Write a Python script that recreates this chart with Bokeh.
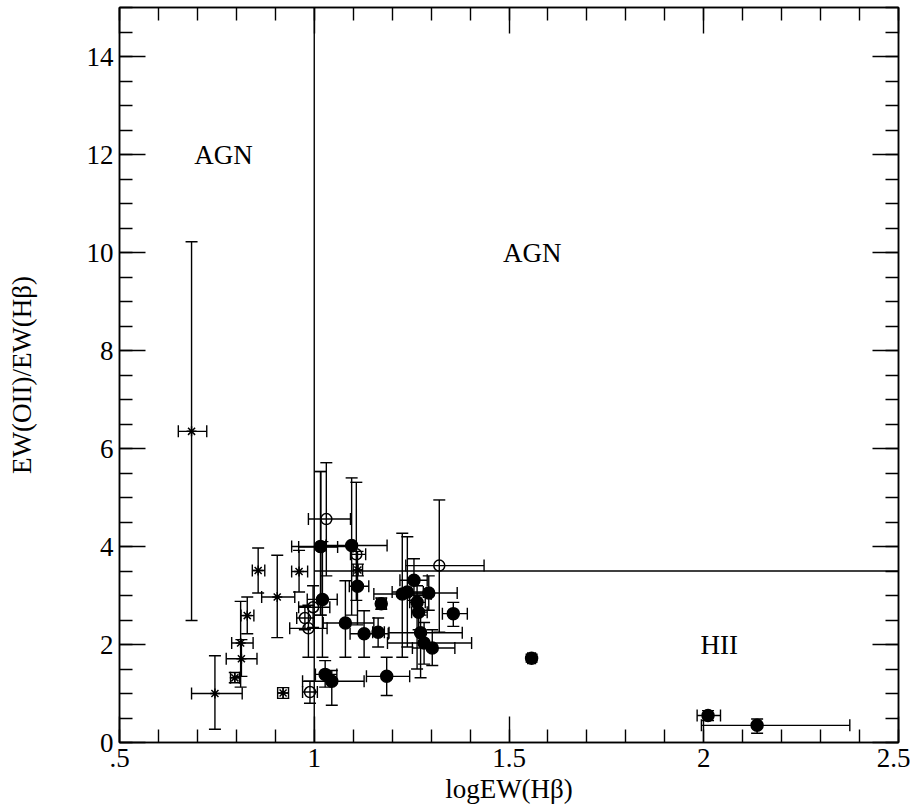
from bokeh.plotting import figure
from bokeh.models import (ColumnDataSource, Whisker, TeeHead, LinearAxis,
                          SingleIntervalTicker, CustomLabelingPolicy)
from bokeh.core.properties import value
from bokeh.embed import file_html
from bokeh.resources import INLINE

FONT = "Liberation Serif"

# asterisks
star_x = [0.685, 0.745, 0.796, 0.813, 0.811, 0.828, 0.856, 0.905, 0.961, 0.920, 1.112]
star_y = [6.35, 1.00, 1.32, 1.71, 2.03, 2.59, 3.51, 2.97, 3.49, 1.01, 3.52]
star_xlo = [0.651, 0.685, 0.785, 0.774, 0.788, 0.812, 0.841, 0.865, 0.942, 0.906, 1.100]
star_xhi = [0.724, 0.815, 0.808, 0.853, 0.843, 0.845, 0.873, 0.950, 0.983, 0.934, 1.124]
star_ylo = [2.49, 0.27, 1.22, 1.35, 1.13, 2.22, 3.05, 2.14, 3.07, 0.90, 3.40]
star_yhi = [10.22, 1.77, 1.43, 2.10, 2.88, 2.97, 3.97, 3.82, 3.92, 1.12, 3.64]

# open circles
open_x = [0.989, 0.985, 0.976, 0.997, 1.031, 1.017, 1.108, 1.321]
open_y = [1.03, 2.33, 2.54, 2.76, 4.56, 3.99, 3.84, 3.61]
open_xlo = [0.970, 0.937, 0.955, 0.960, 0.985, 0.960, 1.093, 1.235]
open_xhi = [1.008, 1.033, 1.000, 1.040, 1.093, 1.060, 1.132, 1.436]
open_ylo = [0.80, 1.74, 2.30, 2.35, 3.40, 2.60, 2.90, 2.25]
open_yhi = [1.25, 2.80, 2.78, 3.20, 5.71, 5.53, 5.31, 4.95]

# filled circles
fill_x = [1.021, 1.016, 1.096, 1.111, 1.080, 1.128, 1.164, 1.172, 1.028, 1.045, 1.186, 1.256,
          1.226, 1.239, 1.294, 1.264, 1.268, 1.273, 1.282, 1.303, 1.357, 1.558, 2.011, 2.137]
fill_y = [2.92, 4.00, 4.02, 3.19, 2.44, 2.22, 2.25, 2.83, 1.39, 1.25, 1.35, 3.31,
          3.03, 3.07, 3.05, 2.86, 2.66, 2.24, 2.03, 1.93, 2.63, 1.72, 0.55, 0.35]
fill_xlo = [0.982, 0.942, 1.030, 1.090, 1.023, 1.092, 1.150, 1.160, 1.003, 0.970, 1.134, 1.220,
            1.153, 1.200, 1.230, 1.245, 1.250, 1.192, 1.188, 1.252, 1.329, 1.548, 1.983, 1.994]
fill_xhi = [1.059, 1.100, 1.187, 1.140, 1.153, 1.190, 1.180, 1.185, 1.058, 1.128, 1.245, 1.290,
            1.300, 1.280, 1.367, 1.285, 1.290, 1.380, 1.404, 1.361, 1.393, 1.568, 2.043, 2.375]
fill_ylo = [1.74, 2.60, 2.60, 2.40, 1.74, 1.74, 1.95, 2.72, 1.13, 0.76, 0.96, 2.90,
            1.74, 1.95, 2.70, 1.50, 2.30, 1.32, 1.60, 1.57, 2.37, 1.64, 0.45, 0.19]
fill_yhi = [4.10, 5.53, 5.40, 3.90, 3.30, 2.69, 2.54, 2.95, 1.67, 1.47, 1.74, 3.75,
            4.27, 4.20, 3.40, 3.20, 3.00, 2.60, 2.45, 2.30, 2.86, 1.80, 0.65, 0.48]

# dividing lines and region labels
agn_logew = 1.0
hii_ratio = 3.5
region_labels = ["AGN", "AGN", "HII"]
region_x = [0.767, 1.56, 2.04]
region_y = [12.0, 10.0, 1.98]

x_tick_labels = {0.5: ".5", 1: "1", 1.5: "1.5", 2: "2", 2.5: "2.5"}

p = figure(width=910, height=808, x_range=(0.5, 2.5), y_range=(0, 15),
           output_backend="svg", toolbar_location=None,
           min_border_left=119, min_border_right=12, min_border_top=7,
           min_border_bottom=66)
p.xgrid.visible = False
p.ygrid.visible = False
p.outline_line_color = "black"
p.outline_line_width = 1.5

no_labels = CustomLabelingPolicy(code="""
try { for (let i = 0; i < indices.size; i++) indices.unset(i); } catch (e) {}
return indices;
""")


def style_axis(ax, dim, labels):
    if dim == "x":
        ax.ticker = SingleIntervalTicker(interval=0.5, num_minor_ticks=5)
    else:
        ax.ticker = SingleIntervalTicker(interval=2, num_minor_ticks=4)
    ax.axis_line_color = "black"
    ax.axis_line_width = 1.5
    ax.major_tick_in = 26
    ax.major_tick_out = 0
    ax.minor_tick_in = 13
    ax.minor_tick_out = 0
    ax.major_tick_line_width = 1.4
    ax.minor_tick_line_width = 1.4
    ax.major_label_text_font = FONT
    ax.major_label_text_color = "black"
    if labels:
        ax.major_label_text_font_size = "27px"
        ax.major_label_standoff = 6
    else:
        ax.major_label_text_font_size = "0px"
        ax.major_label_standoff = 0
        ax.major_label_policy = no_labels


style_axis(p.xaxis[0], "x", True)
style_axis(p.yaxis[0], "y", True)
p.xaxis[0].major_label_overrides = x_tick_labels
p.xaxis.axis_label = "logEW(Hβ)"
p.yaxis.axis_label = "EW(OII)/EW(Hβ)"
for ax in (p.xaxis[0], p.yaxis[0]):
    ax.axis_label_text_font = FONT
    ax.axis_label_text_font_size = "27px"
    ax.axis_label_text_font_style = "normal"
    ax.axis_label_text_color = "black"
p.xaxis.axis_label_standoff = 4
p.yaxis.axis_label_standoff = 47

top = LinearAxis()
style_axis(top, "x", False)
p.add_layout(top, "above")
right = LinearAxis()
style_axis(right, "y", False)
p.add_layout(right, "right")

# boundaries
p.segment(x0=[agn_logew], y0=[0], x1=[agn_logew], y1=[15], line_color="black", line_width=1.4)
p.segment(x0=[agn_logew], y0=[hii_ratio], x1=[2.5], y1=[hii_ratio], line_color="black", line_width=1.4)


def add_group(xs, ys, xlo, xhi, ylo, yhi, marker, size, fill):
    src = ColumnDataSource(data=dict(x=xs, y=ys, xlo=xlo, xhi=xhi, ylo=ylo, yhi=yhi))
    for dim, base, lo, hi in (("height", "x", "ylo", "yhi"), ("width", "y", "xlo", "xhi")):
        w = Whisker(source=src, base=base, lower=lo, upper=hi, dimension=dim,
                    line_color="black", line_width=1.4,
                    upper_head=TeeHead(size=12, line_color="black", line_width=1.4),
                    lower_head=TeeHead(size=12, line_color="black", line_width=1.4))
        w.level = "underlay"
        p.add_layout(w)
    p.scatter("x", "y", source=src, marker=marker, size=size, line_color="black",
              fill_color=fill, line_width=1.5)


add_group(star_x, star_y, star_xlo, star_xhi, star_ylo, star_yhi, "asterisk", 10, None)
add_group(open_x, open_y, open_xlo, open_xhi, open_ylo, open_yhi, "circle", 11, None)
add_group(fill_x, fill_y, fill_xlo, fill_xhi, fill_ylo, fill_yhi, "circle", 12, "black")

p.text(x=region_x, y=region_y, text=region_labels, text_font=value(FONT),
       text_font_size="27px", text_align="center", text_baseline="middle",
       text_color="black")

open("out.html", "w").write(file_html(p, INLINE))
